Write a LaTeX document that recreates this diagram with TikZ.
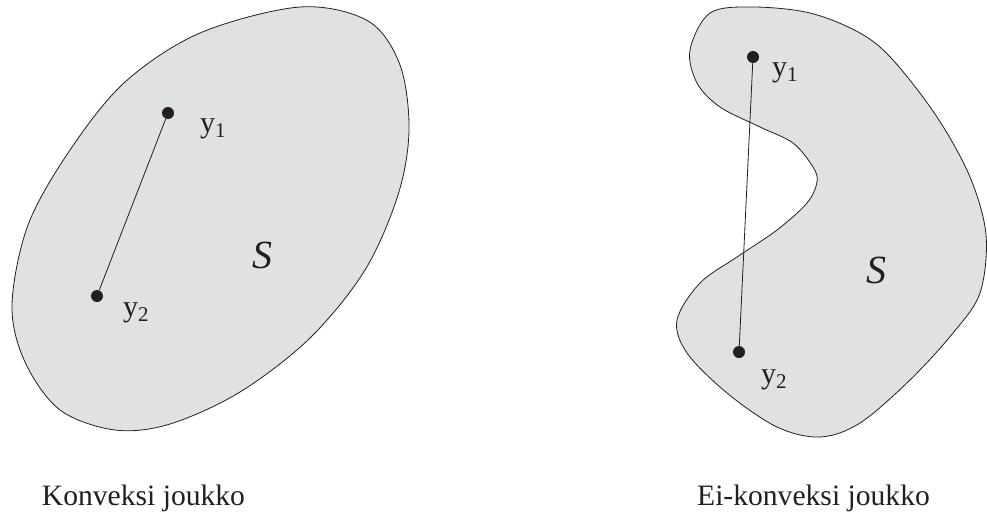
\documentclass[tikz,border=0pt]{standalone}
\usepackage{fontspec}
\setmainfont{Liberation Serif}
\definecolor{setfill}{RGB}{224,225,227}
\definecolor{ink}{RGB}{35,31,32}
\begin{document}
\begin{tikzpicture}[x=1pt,y=-1pt,
  region/.style={draw=ink,line width=0.8pt,fill=setfill},
  pt/.style={circle,fill=ink,inner sep=0pt,minimum size=12pt},
  seg/.style={draw=ink,line width=0.8pt},
  ptlabel/.style={font=\fontsize{30}{34}\selectfont,text=ink,inner sep=0pt,anchor=base west},
  setname/.style={font=\fontsize{40}{44}\selectfont\itshape,text=ink,inner sep=0pt},
  caption/.style={font=\fontsize{29.6}{34}\selectfont,text=ink,inner sep=0pt,anchor=base}]
\useasboundingbox (0,0) rectangle (987,515);

% convex set
\draw[region] plot[smooth cycle,tension=0.55] coordinates {
  (300,7) (368,21) (400,65) (409,130) (398,195) (365,270) (310,338)
  (240,392) (170,424) (115,430) (60,410) (25,362) (12,305) (28,225)
  (70,150) (125,82) (200,33)};
\node[pt] (a1) at (168,113) {};
\node[pt] (a2) at (97,296) {};
\draw[seg] (a1) -- (a2);
\node[ptlabel] (la1) at (200,132) {y\textsubscript{\fontsize{21}{24}\selectfont 1}};
\node[ptlabel] (la2) at (123,316) {y\textsubscript{\fontsize{21}{24}\selectfont 2}};
\node[setname] (sa) at (262,255) {S};
\node[caption] (ca) at (143.5,505) {Konveksi joukko};

% non-convex set
\draw[region] plot[smooth cycle,tension=0.55] coordinates {
  (710,13) (753,7) (810,13) (860,33) (893,60) (937,117) (970,177)
  (986,235) (980,293) (953,333) (910,380) (860,423) (820,437) (777,427)
  (727,393) (687,353) (677,320) (700,283) (737,257) (777,230) (807,203)
  (817,182) (813,167) (793,143) (760,127) (720,107) (697,83) (690,50)};
\node[pt] (b1) at (753,57) {};
\node[pt] (b2) at (739,352) {};
\draw[seg] (b1) -- (b2);
\node[ptlabel] (lb1) at (772,76) {y\textsubscript{\fontsize{21}{24}\selectfont 1}};
\node[ptlabel] (lb2) at (761,383) {y\textsubscript{\fontsize{21}{24}\selectfont 2}};
\node[setname] (sb) at (876,270) {S};
\node[caption] (cb) at (813.5,505) {Ei-konveksi joukko};
\end{tikzpicture}
\end{document}
